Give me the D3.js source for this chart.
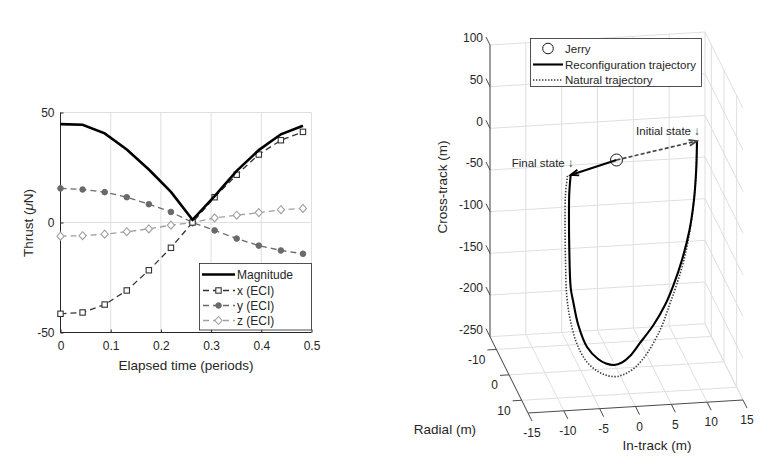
<!DOCTYPE html>
<html><head><meta charset="utf-8">
<script src="https://cdn.jsdelivr.net/npm/d3@7"></script>
<style>
body{margin:0;background:#fff;}
text{font-family:"Liberation Sans",Arial,Helvetica,sans-serif;fill:#262626;}
</style>
</head><body><svg id="c" width="765" height="473"></svg>
<script>
// ================= Left chart data =================
const elapsedTime = [0, 0.044, 0.088, 0.132, 0.176, 0.22, 0.263, 0.307, 0.351, 0.395, 0.439, 0.483];
const thrustMagnitude = [44.7, 44.4, 40.5, 33.2, 24.1, 13.9, 1.2, 12.0, 23.5, 32.9, 40.1, 44.0];
const thrustX = [-41.5, -40.9, -37.3, -30.9, -21.7, -11.5, 0, 11.5, 21.7, 30.9, 37.4, 41.2];
const thrustY = [15.5, 15.0, 13.8, 11.5, 8.3, 4.8, 0, -3.6, -7.3, -10.5, -12.7, -14.2];
const thrustZ = [-6.2, -6.0, -5.3, -4.2, -2.9, -1.2, 0, 2.1, 3.3, 4.5, 5.8, 6.4];
const timeTicks = [0, 0.1, 0.2, 0.3, 0.4, 0.5];
const thrustTicks = [-50, 0, 50];
const thrustLegend = ["Magnitude", "x (ECI)", "y (ECI)", "z (ECI)"];

// ================= Right chart data (in-track, radial, cross-track) =================
const reconfInTrack = [11.23, 11.12, 10.81, 10.10, 8.87, 7.51, 6.24, 4.54, 2.57, 1.09, -0.12, -1.23, -2.35, -3.46, -4.91, -6.04, -6.56, -6.83, -6.85, -6.72, -6.59, -6.39];
const reconfRadial  = [0, 0, 0, 0.5, 1.5, 2.5, 3, 3.5, 4, 4.5, 5, 5, 5, 5, 4.5, 4, 3, 2.5, 1.5, 0.5, 0, 0];
const reconfCross   = [17.0, -17.8, -53.6, -87.7, -120.0, -146.3, -168.1, -189.7, -208.7, -222.0, -227.7, -230.1, -227.7, -221.7, -208.1, -182.7, -157.8, -142.4, -99.9, -61.0, -36.2, -14.7];
const naturalInTrack = [11.23, 11.12, 10.81, 10.17, 9.15, 7.93, 6.86, 5.59, 3.69, 2.02, 0.58, -0.90, -2.30, -3.55, -5.04, -6.35, -7.20, -7.48, -7.38, -7.27, -7.12, -6.84];
const naturalRadial  = [0, 0, 0, 0.5, 1.5, 2.5, 3, 3.5, 4, 4.5, 5, 5.5, 5.5, 5.5, 5, 4.5, 4, 3, 1.5, 0.5, 0, 0];
const naturalCross   = [17.0, -17.8, -53.6, -87.7, -120.2, -146.5, -168.4, -193.8, -220.1, -234.5, -240.6, -242.5, -240.6, -235.1, -224.2, -202.9, -174.0, -149.0, -111.6, -72.7, -38.3, -15.6];
const jerryPos = [0, 0, 0];
const inTrackTicks = [-15, -10, -5, 0, 5, 10, 15];
const radialTicks = [-10, 0, 10];
const crossTicks = [-250, -200, -150, -100, -50, 0, 50, 100];
const trajLegend = ["Jerry", "Reconfiguration trajectory", "Natural trajectory"];

const svg = d3.select("#c");
const GRID = "#dfdfdf", AX = "#262626";

// ================= Left chart =================
(function(){
  const x = d3.scaleLinear().domain([0, 0.5]).range([60.5, 311.5]);
  const y = d3.scaleLinear().domain([-50, 50]).range([332.5, 112.5]);
  const g = svg.append("g");
  timeTicks.filter(t => t > 0).forEach(t => g.append("line").attr("x1", x(t)).attr("x2", x(t)).attr("y1", y(-50)).attr("y2", y(50)).attr("stroke", GRID));
  thrustTicks.filter(t => t > -50).forEach(t => g.append("line").attr("x1", x(0)).attr("x2", x(0.5)).attr("y1", y(t)).attr("y2", y(t)).attr("stroke", GRID));
  const xa = g.append("g").attr("transform", `translate(0,${y(-50)})`)
    .call(d3.axisBottom(x).tickValues(timeTicks).tickSize(-3).tickPadding(9).tickFormat(d3.format("")));
  const ya = g.append("g").attr("transform", `translate(${x(0)},0)`)
    .call(d3.axisLeft(y).tickValues(thrustTicks).tickSize(-3).tickPadding(6).tickFormat(d => d));
  [xa, ya].forEach(a => {
    a.select(".domain").attr("stroke", AX);
    a.selectAll(".tick line").attr("stroke", AX);
    a.selectAll("text").style("font-size", "12px").attr("fill", "#262626").style("font-family", '"Liberation Sans",Arial,sans-serif');
  });
  xa.selectAll(".domain").attr("d", `M${x(0)},0H${x(0.5)}`);
  ya.selectAll(".domain").attr("d", `M0,${y(-50)}V${y(50)}`);

  const series = [
    {v: thrustX, color: "#333333", marker: "square"},
    {v: thrustY, color: "#6a6a6a", marker: "circle"},
    {v: thrustZ, color: "#a0a0a0", marker: "diamond"}
  ];
  const line = d3.line().x((d, i) => x(elapsedTime[i])).y(d => y(d));
  function drawMarker(sel, type, cx, cy, color){
    if (type === "square") sel.append("rect").attr("x", cx - 2.7).attr("y", cy - 2.7).attr("width", 5.4).attr("height", 5.4).attr("fill", "#fff").attr("stroke", color).attr("stroke-width", 1.1);
    else if (type === "circle") sel.append("circle").attr("cx", cx).attr("cy", cy).attr("r", 2.8).attr("fill", color).attr("stroke", color);
    else sel.append("path").attr("d", `M${cx},${cy-4}L${cx+3.6},${cy}L${cx},${cy+4}L${cx-3.6},${cy}Z`).attr("fill", "#fff").attr("stroke", color).attr("stroke-width", 1.1);
  }
  series.slice().reverse().forEach(s => {
    g.append("path").attr("d", line(s.v)).attr("fill", "none").attr("stroke", s.color).attr("stroke-width", 1.3).attr("stroke-dasharray", "6,4");
  });
  series.slice().reverse().forEach(s => {
    s.v.forEach((d, i) => drawMarker(g, s.marker, x(elapsedTime[i]), y(d), s.color));
  });
  g.append("path").attr("d", line(thrustMagnitude)).attr("fill", "none").attr("stroke", "#000").attr("stroke-width", 2.6).attr("stroke-linejoin", "miter");

  const lg = g.append("g");
  lg.append("rect").attr("x", 199.5).attr("y", 263.5).attr("width", 112).attr("height", 66.5).attr("fill", "#fff").attr("stroke", AX).attr("stroke-width", 0.8);
  const ly = [274.5, 290.5, 305.5, 320.5];
  thrustLegend.forEach((name, i) => {
    if (i === 0) {
      lg.append("line").attr("x1", 202).attr("x2", 235).attr("y1", ly[i]).attr("y2", ly[i]).attr("stroke", "#000").attr("stroke-width", 2.6);
    } else {
      const s = series[i - 1];
      lg.append("line").attr("x1", 202).attr("x2", 235).attr("y1", ly[i]).attr("y2", ly[i]).attr("stroke", s.color).attr("stroke-width", 1.3).attr("stroke-dasharray", "6,4").attr("stroke-dashoffset", "-1");
      drawMarker(lg, s.marker, 218.5, ly[i], s.color);
    }
    lg.append("text").attr("x", 237).attr("y", ly[i]).attr("dy", "0.36em").style("font-size", "12px").text(name);
  });

  g.append("text").attr("x", 186).attr("y", 365).attr("dy", "0.36em").attr("text-anchor", "middle").style("font-size", "13.5px").text("Elapsed time (periods)");
  const yl = g.append("text").attr("transform", "translate(28.5,223) rotate(-90)").attr("text-anchor", "middle").attr("dy", "0.36em").style("font-size", "13.5px");
  yl.append("tspan").text("Thrust (");
  yl.append("tspan").style("font-style", "italic").text("\u03bc");
  yl.append("tspan").text("N)");
})();

// ================= Right chart (3D) =================
(function(){
  const corner = {x: 490, y: 336.7};
  const U = [215, -13], V = [38, 76.3], W = [0, -291.7];
  const fIn = d3.scaleLinear().domain([-15, 15]).range([0, 1]);
  const fRad = d3.scaleLinear().domain([-15, 15]).range([0, 1]);
  const fCross = d3.scaleLinear().domain([-250, 100]).range([0, 1]);
  const P = (a, r, c) => {
    const u = fIn(a), v = fRad(r), w = fCross(c);
    return [corner.x + u * U[0] + v * V[0] + w * W[0], corner.y + u * U[1] + v * V[1] + w * W[1]];
  };
  const g = svg.append("g");
  const seg = (p, q, color, w) => g.append("line").attr("x1", p[0]).attr("y1", p[1]).attr("x2", q[0]).attr("y2", q[1]).attr("stroke", color).attr("stroke-width", w || 1);
  const [inMin, inMax] = fIn.domain(), [rMin, rMax] = fRad.domain(), [cMin, cMax] = fCross.domain();
  inTrackTicks.forEach(t => seg(P(t, rMin, cMin), P(t, rMin, cMax), GRID));
  crossTicks.forEach(t => seg(P(inMin, rMin, t), P(inMax, rMin, t), GRID));
  radialTicks.forEach(t => seg(P(inMax, t, cMin), P(inMax, t, cMax), GRID));
  crossTicks.forEach(t => seg(P(inMax, rMin, t), P(inMax, rMax, t), GRID));
  inTrackTicks.forEach(t => seg(P(t, rMin, cMin), P(t, rMax, cMin), GRID));
  radialTicks.forEach(t => seg(P(inMin, t, cMin), P(inMax, t, cMin), GRID));

  const AXC = "#4a4a4a";
  seg(P(inMin, rMin, cMin), P(inMin, rMin, cMax), AXC);
  seg(P(inMin, rMin, cMin), P(inMin, rMax, cMin), AXC);
  seg(P(inMin, rMax, cMin), P(inMax, rMax, cMin), AXC);
  const TL = 9;
  const nV = Math.hypot(V[0], V[1]), dV = [V[0] / nV, V[1] / nV];
  const nU = Math.hypot(U[0], U[1]), dU = [U[0] / nU, U[1] / nU];
  crossTicks.forEach(t => {
    const p = P(inMin, rMin, t);
    seg(p, [p[0] - dV[0] * TL, p[1] - dV[1] * TL], AXC);
    g.append("text").attr("x", p[0] - 7).attr("y", p[1] - 7).attr("dy", "0.36em").attr("text-anchor", "end").style("font-size", "12px").text(t);
  });
  radialTicks.forEach(t => {
    const p = P(inMin, t, cMin);
    seg(p, [p[0] - dU[0] * TL, p[1] - dU[1] * TL], AXC);
    g.append("text").attr("x", p[0] - 11).attr("y", p[1] + 10).attr("dy", "0.36em").attr("text-anchor", "end").style("font-size", "12px").text(t);
  });
  inTrackTicks.forEach(t => {
    const p = P(t, rMax, cMin);
    seg(p, [p[0] + dV[0] * TL, p[1] + dV[1] * TL], AXC);
    g.append("text").attr("x", p[0] + 4).attr("y", p[1] + 20).attr("dy", "0.36em").attr("text-anchor", "middle").style("font-size", "12px").text(t);
  });

  g.append("text").attr("transform", "translate(442,187) rotate(-90)").attr("text-anchor", "middle").attr("dy", "0.36em").style("font-size", "13.5px").text("Cross-track (m)");
  g.append("text").attr("x", 445).attr("y", 429).attr("dy", "0.36em").attr("text-anchor", "middle").style("font-size", "13.5px").text("Radial (m)");
  g.append("text").attr("x", 657).attr("y", 445).attr("dy", "0.36em").attr("text-anchor", "middle").style("font-size", "13.5px").text("In-track (m)");

  const curve = d3.line().curve(d3.curveCatmullRom.alpha(0.5));
  const natPts = naturalInTrack.map((a, i) => P(a, naturalRadial[i], naturalCross[i]));
  const recPts = reconfInTrack.map((a, i) => P(a, reconfRadial[i], reconfCross[i]));
  g.append("path").attr("d", curve(natPts)).attr("fill", "none").attr("stroke", "#3a3a3a").attr("stroke-width", 1.6).attr("stroke-dasharray", "1.4,1.6");
  g.append("path").attr("d", curve(recPts)).attr("fill", "none").attr("stroke", "#000").attr("stroke-width", 2.1);

  const J = P(jerryPos[0], jerryPos[1], jerryPos[2]);
  const last = reconfInTrack.length - 1;
  const initP = P(reconfInTrack[0], reconfRadial[0], reconfCross[0]);
  const finP = P(reconfInTrack[last], reconfRadial[last], reconfCross[last]);
  function arrow(to, color, w, dash){
    g.append("line").attr("x1", J[0]).attr("y1", J[1]).attr("x2", to[0]).attr("y2", to[1]).attr("stroke", color).attr("stroke-width", w).attr("stroke-dasharray", dash || null);
    const dx = to[0] - J[0], dy = to[1] - J[1], n = Math.hypot(dx, dy), ux = dx / n, uy = dy / n;
    const hl = 8, hw = 3;
    const b = [to[0] - ux * hl, to[1] - uy * hl];
    g.append("path").attr("d", `M${b[0] - uy * hw},${b[1] + ux * hw}L${to[0]},${to[1]}L${b[0] + uy * hw},${b[1] - ux * hw}`)
      .attr("fill", "none").attr("stroke", color).attr("stroke-width", w);
  }
  arrow(initP, "#454545", 1.7, "4,2.2");
  arrow(finP, "#000", 1.9);
  g.append("circle").attr("cx", J[0]).attr("cy", J[1]).attr("r", 6).attr("fill", "none").attr("stroke", "#1a1a1a").attr("stroke-width", 1);

  g.append("text").attr("x", initP[0] + 3).attr("y", initP[1] - 6).attr("text-anchor", "end").style("font-size", "11.5px").text("Initial state \u2193");
  g.append("text").attr("x", finP[0] + 3).attr("y", finP[1] - 8).attr("text-anchor", "end").style("font-size", "11.5px").text("Final state \u2193");

  const lg = g.append("g");
  lg.append("rect").attr("x", 530.5).attr("y", 38.5).attr("width", 171).attr("height", 48).attr("fill", "#fff").attr("stroke", AX).attr("stroke-width", 0.8);
  const ly = [48.5, 64.5, 80];
  lg.append("circle").attr("cx", 548).attr("cy", ly[0]).attr("r", 5.3).attr("fill", "none").attr("stroke", "#1a1a1a");
  lg.append("line").attr("x1", 533).attr("x2", 563).attr("y1", ly[1]).attr("y2", ly[1]).attr("stroke", "#000").attr("stroke-width", 2.1);
  lg.append("line").attr("x1", 533).attr("x2", 563).attr("y1", ly[2]).attr("y2", ly[2]).attr("stroke", "#3a3a3a").attr("stroke-width", 1.6).attr("stroke-dasharray", "1.4,1.6");
  trajLegend.forEach((name, i) => lg.append("text").attr("x", 565).attr("y", ly[i]).attr("dy", "0.36em").style("font-size", "11.5px").text(name));
})();
</script>
</body></html>
